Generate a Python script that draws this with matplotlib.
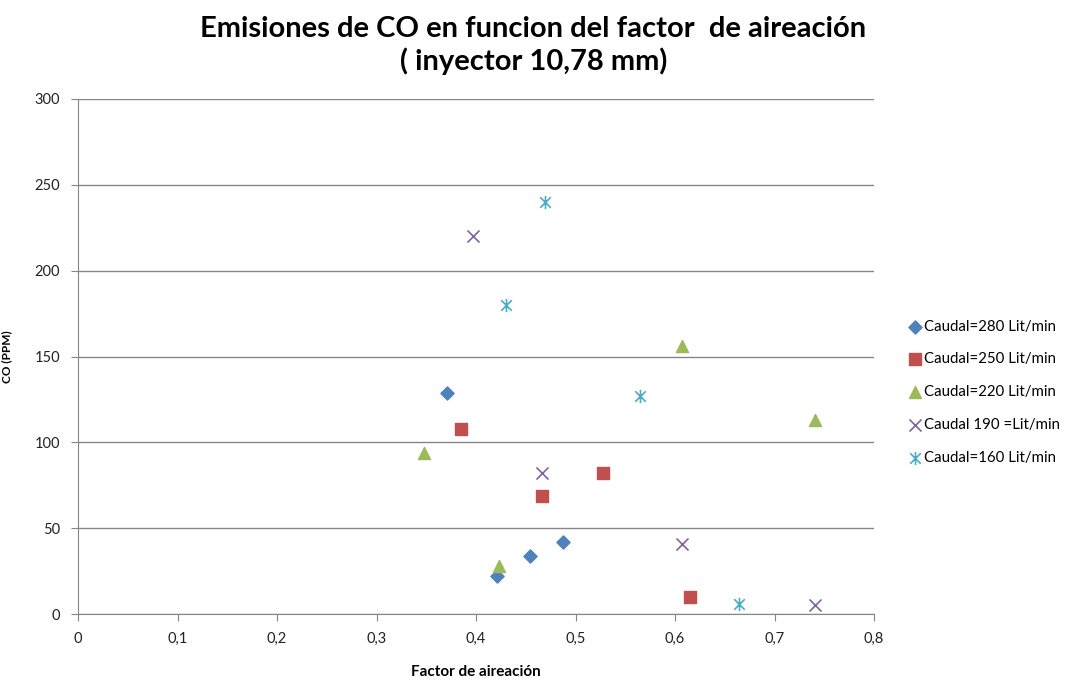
import numpy as np
import matplotlib.pyplot as plt
from matplotlib.path import Path

plt.rcParams['font.family'] = ['Lato', 'DejaVu Sans']

# data
x280 = [0.371, 0.421, 0.454, 0.487]
y280 = [129, 22, 34, 42]
x250 = [0.385, 0.466, 0.528, 0.615]
y250 = [108, 69, 82, 10]
x220 = [0.348, 0.423, 0.607, 0.741]
y220 = [94, 28, 156, 113]
x190 = [0.397, 0.466, 0.607, 0.741]
y190 = [220, 82, 41, 5]
x160 = [0.469, 0.430, 0.565, 0.664]
y160 = [240, 180, 127, 6]

labels = ['Caudal=280 Lit/min', 'Caudal=250 Lit/min', 'Caudal=220 Lit/min',
          'Caudal 190 =Lit/min', 'Caudal=160 Lit/min']
colors = ['#4F81BD', '#C0504D', '#9BBB59', '#8064A2', '#4BACC6']

# excel-like asterisk: vertical bar plus an x
star = Path([(0, -1), (0, 1), (-0.8, -0.8), (0.8, 0.8), (-0.8, 0.8), (0.8, -0.8)],
            [Path.MOVETO, Path.LINETO] * 3)

fig = plt.figure(figsize=(10.73, 6.86), dpi=100)
ax = fig.add_axes([78 / 1073, 1 - 614 / 686, 796 / 1073, 515 / 686])

ax.scatter(x280, y280, marker='D', s=45, color=colors[0], label=labels[0], zorder=3)
ax.scatter(x250, y250, marker='s', s=80, color=colors[1], label=labels[1], zorder=3)
ax.scatter(x220, y220, marker='^', s=75, color=colors[2], label=labels[2], zorder=3)
ax.scatter(x190, y190, marker='x', s=75, color=colors[3], linewidths=1.2, label=labels[3], zorder=3)
ax.scatter(x160, y160, marker=star, s=90, color=colors[4], linewidths=1.2, label=labels[4], zorder=3)

ax.set_xlim(0, 0.8)
ax.set_ylim(0, 300)
ax.set_xticks(np.arange(0, 0.81, 0.1))
ax.set_xticklabels(['0', '0,1', '0,2', '0,3', '0,4', '0,5', '0,6', '0,7', '0,8'])
ax.set_yticks(range(0, 301, 50))
ax.yaxis.grid(True, color='#868686', linewidth=1)
ax.set_axisbelow(True)
for s in ['top', 'right']:
    ax.spines[s].set_visible(False)
for s in ['left', 'bottom']:
    ax.spines[s].set_color('#868686')
ax.tick_params(axis='both', colors='#868686', labelcolor='#222222', labelsize=10.5,
               length=5, direction='out', pad=8)

ax.set_xlabel('Factor de aireación', fontsize=11, fontweight='bold', labelpad=14)
ax.set_ylabel('CO (PPM)', fontsize=8.5, fontweight='bold', labelpad=16)

fig.text(0.497, 0.976, 'Emisiones de CO en funcion del factor  de aireación\n( inyector 10,78 mm)',
         ha='center', va='top', fontsize=21, fontweight='bold', linespacing=1.2)

ax.legend(loc='center left', bbox_to_anchor=(1.035, 0.431), frameon=False, fontsize=10.8,
          handletextpad=0.1, labelspacing=1.25, borderaxespad=0, handlelength=1.0)

fig.savefig('out.png', dpi=100)
